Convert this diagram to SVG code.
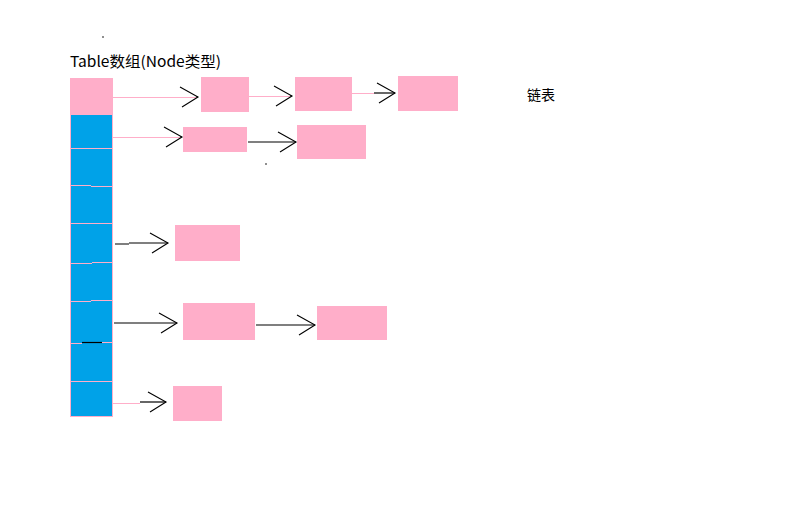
<svg xmlns="http://www.w3.org/2000/svg" width="807" height="532" viewBox="0 0 807 532">
<defs>
<style>
.n{fill:#ffaec9}
.cell{fill:#00a2e8}
.sep{stroke:#ffaec9;stroke-width:1;fill:none}
.pk{stroke:#ffaec9;stroke-width:1;fill:none}
.bk{stroke:#000;stroke-width:1.2;fill:none}
.t{font-family:"Noto Sans CJK SC","Liberation Sans",sans-serif;fill:#000}
</style>
<marker id="ah" markerUnits="userSpaceOnUse" markerWidth="22" markerHeight="24" refX="19" refY="12" orient="auto" viewBox="0 0 22 24">
<path d="M1,2 L19,12 L3,22" fill="none" stroke="#000" stroke-width="1.1"/>
</marker>
</defs>
<rect width="807" height="532" fill="#fff"/>
<circle cx="103" cy="37" r="0.8" fill="#000"/>
<text class="t" x="70" y="67" font-size="15" textLength="151" lengthAdjust="spacingAndGlyphs">Table数组(Node类型)</text>
<text class="t" x="527" y="100" font-size="14">链表</text>
<g id="table">
<rect x="70.5" y="114.5" width="42" height="302" class="cell" stroke="#ffaec9" stroke-width="1"/>
<rect x="70" y="78" width="43" height="36" class="n"/>
<path class="sep" d="M71,148.5H113 M71,185.5H91 M91,186.5H113 M71,223.5H113 M71,263.5H92 M92,262.5H113 M71,301.5H91 M91,300.5H113 M71,343.5H82 M102,342.5H113 M71,381.5H113"/>
<path d="M82,342.5H102" stroke="#000" stroke-width="1.2"/>
</g>
<g id="nodes">
<rect id="n1a" class="n" x="201" y="77" width="48" height="35"/>
<rect id="n1b" class="n" x="295" y="77" width="57" height="34"/>
<rect id="n1c" class="n" x="398" y="76" width="60" height="35"/>
<rect id="n2a" class="n" x="183" y="127" width="64" height="25"/>
<rect id="n2b" class="n" x="297" y="125" width="69" height="34"/>
<rect id="n4a" class="n" x="175" y="225" width="65" height="36"/>
<rect id="n6a" class="n" x="183" y="303" width="72" height="37"/>
<rect id="n6b" class="n" x="317" y="306" width="70" height="34"/>
<rect id="n8a" class="n" x="173" y="386" width="49" height="35"/>
</g>
<g id="connectors">
<path class="pk" d="M113,97.5H196"/>
<path class="bk" d="M196,97H198" marker-end="url(#ah)"/>
<path class="pk" d="M249,96.5H290"/>
<path class="bk" d="M290,96H292" marker-end="url(#ah)"/>
<path class="pk" d="M352,93.5H374"/>
<path class="bk" d="M374,93H395" marker-end="url(#ah)"/>
<path class="pk" d="M113,137.5H180"/>
<path class="bk" d="M180,137H182" marker-end="url(#ah)"/>
<path class="bk" d="M248,142H296" marker-end="url(#ah)"/>
<circle cx="266" cy="164" r="0.8" fill="#000"/>
<path class="bk" d="M115,244H129 M129,243H168" marker-end="url(#ah)"/>
<path class="bk" d="M114,323H177" marker-end="url(#ah)"/>
<path class="bk" d="M256,325H315" marker-end="url(#ah)"/>
<path class="pk" d="M113,403.5H140"/>
<path class="bk" d="M140,402H166" marker-end="url(#ah)"/>
</g>
</svg>
